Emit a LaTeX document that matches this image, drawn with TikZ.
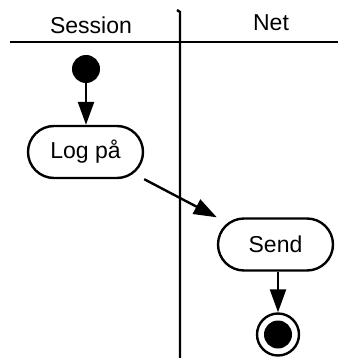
\documentclass[tikz,border=0pt]{standalone}
\usepackage{fontspec}
\setmainfont{Liberation Sans}
\usetikzlibrary{arrows.meta}
\begin{document}
\begin{tikzpicture}[x=1pt,y=-1pt,
  lane/.style={line width=2.4pt},
  txt/.style={font=\fontsize{23}{26}\selectfont, inner sep=0pt},
  act/.style={draw, line width=2.4pt, rectangle, rounded corners=26pt,
    minimum width=115pt, minimum height=52pt, inner sep=0pt,
    font=\fontsize{23}{26}\selectfont},
  initial/.style={circle, fill=black, inner sep=0pt, minimum size=28pt},
  final/.style={circle, draw, line width=2.4pt, inner sep=0pt, minimum size=42pt},
  flow/.style={-{Triangle[length=23pt,width=16pt]}, line width=2.4pt}]
\useasboundingbox (0,0) rectangle (338,358);

% swimlane separators
\draw[lane] (10,42) -- (338,42);
\draw[lane] (177,10) -- (180,12) -- (180,360);

% lane headings
\node[txt] (session) at (91,25.5) {Session};
\node[txt] (net) at (271,22.5) {Net};

% activity nodes
\node[initial] (start) at (86,69) {};
\node[act] (log) at (85.5,152) {Log på};
\node[act] (send) at (275.5,244.5) {Send};
\node[final] (end) at (278,334.5) {};
\node[initial] (endcore) at (end) {};

% control flow
\draw[flow] (start) -- (start |- log.north);
\draw[flow] (log.south east) -- (send.north west);
\draw[flow] (send.south -| end) -- (end.north);
\end{tikzpicture}
\end{document}
